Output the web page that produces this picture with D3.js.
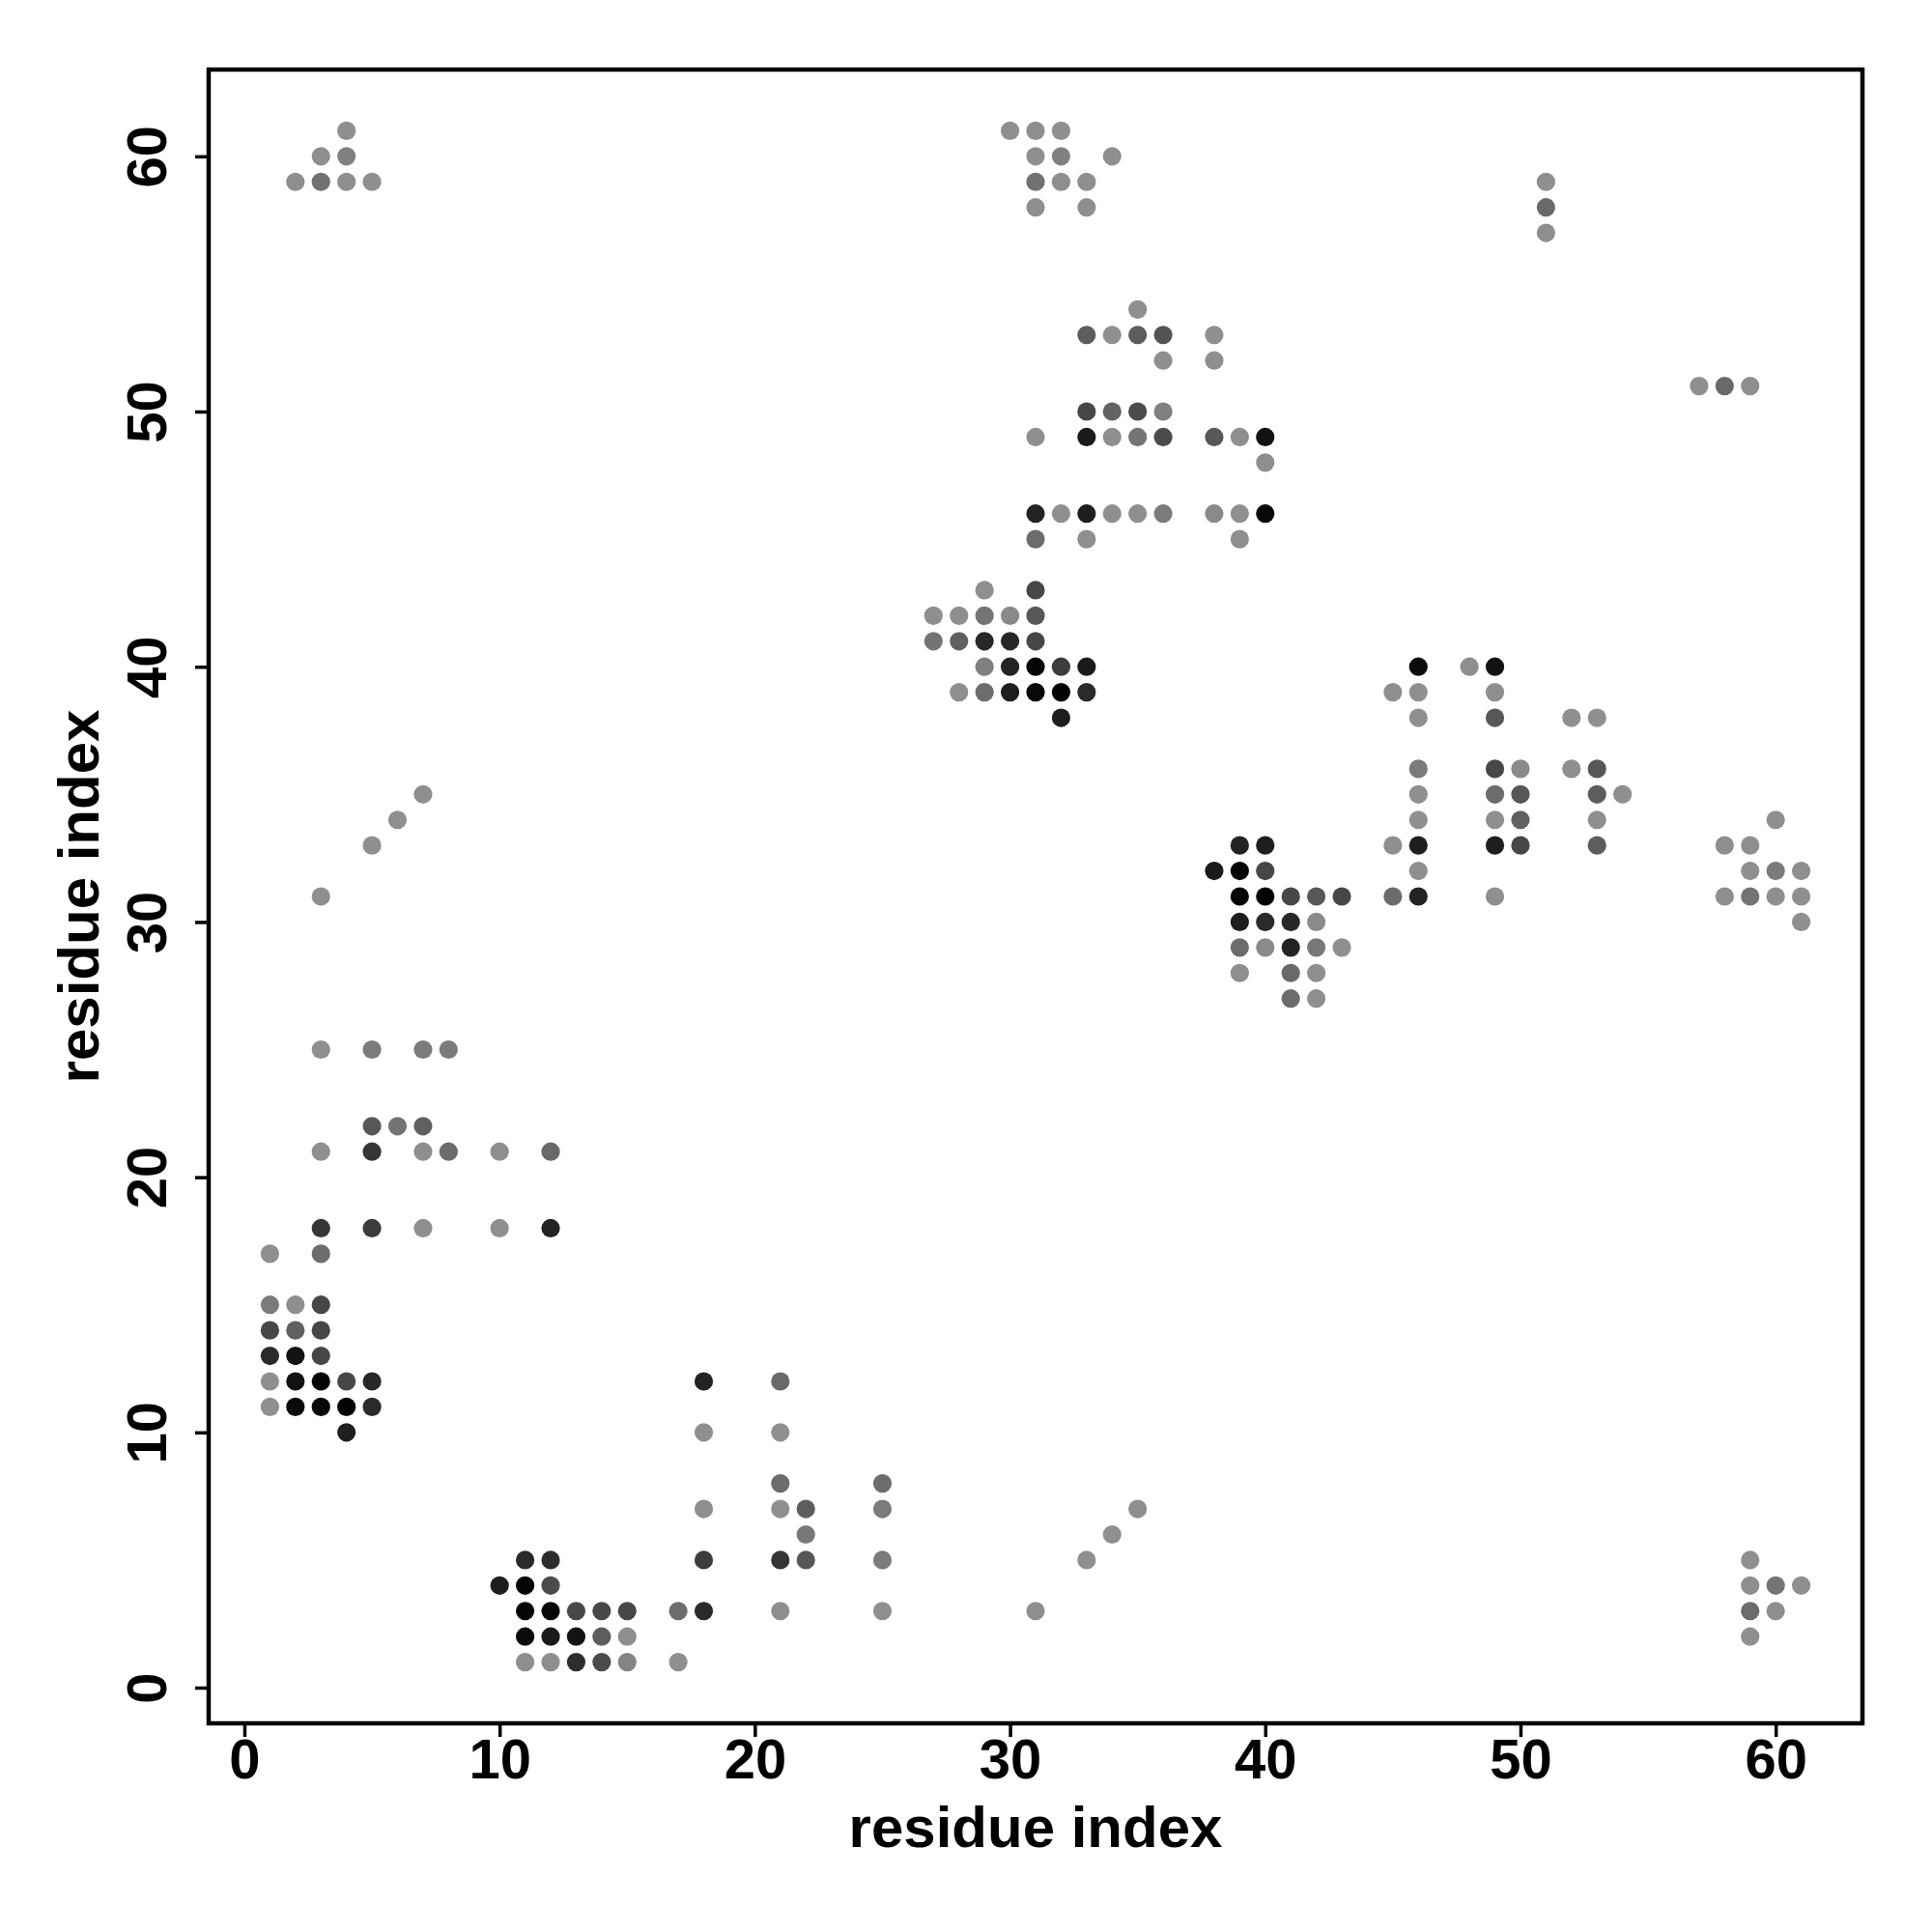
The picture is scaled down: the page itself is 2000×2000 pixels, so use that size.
<!DOCTYPE html>
<html>
<head>
<meta charset="utf-8">
<script src="https://cdn.jsdelivr.net/npm/d3@7"></script>
<style>
  body { margin: 0; background: #fff; }
  text { font-family: "Liberation Sans", Arial, sans-serif; font-weight: bold; }
</style>
</head>
<body>
<div id="chart"></div>
<script>
// contact map: [residue i, residue j, contact strength 0..1]
var contacts = [
  [4,61,.05],[3,60,.05],[4,60,.15],[2,59,.05],[3,59,.25],[4,59,.05],[5,59,.05],
  [30,61,.05],[31,61,.05],[32,61,.05],[31,60,.05],[32,60,.15],[34,60,.05],
  [31,59,.25],[32,59,.05],[33,59,.05],[31,58,.05],[33,58,.05],
  [51,59,.05],[51,58,.3],[51,57,.05],
  [57,51,.05],[58,51,.3],[59,51,.05],
  [35,54,.05],
  [33,53,.38],[34,53,.05],[35,53,.38],[36,53,.45],[38,53,.05],
  [36,52,.05],[38,52,.05],
  [33,50,.53],[34,50,.34],[35,50,.5],[36,50,.15],
  [31,49,.05],[33,49,.82],[34,49,.05],[35,49,.23],[36,49,.5],[38,49,.42],[39,49,.05],[40,49,.88],
  [40,48,.05],
  [31,46,.77],[32,46,.05],[33,46,.8],[34,46,.05],[35,46,.05],[36,46,.18],[38,46,.08],[39,46,.05],[40,46,.95],
  [31,45,.28],[33,45,.05],[39,45,.05],
  [29,43,.05],[31,43,.53],
  [27,42,.05],[28,42,.05],[29,42,.22],[30,42,.08],[31,42,.42],
  [27,41,.23],[28,41,.36],[29,41,.74],[30,41,.74],[31,41,.53],
  [29,40,.15],[30,40,.77],[31,40,.97],[32,40,.6],[33,40,.82],
  [28,39,.05],[29,39,.28],[30,39,.8],[31,39,.95],[32,39,.98],[33,39,.72],
  [32,38,.8],
  [39,33,.77],[40,33,.8],
  [38,32,.82],[39,32,.97],[40,32,.53],
  [39,31,.97],[40,31,.98],[41,31,.53],[42,31,.42],[43,31,.53],
  [39,30,.8],[40,30,.72],[41,30,.74],[42,30,.08],
  [39,29,.28],[40,29,.08],[41,29,.77],[42,29,.2],[43,29,.05],
  [39,28,.05],[41,28,.3],[42,28,.05],
  [41,27,.28],[42,27,.05],
  [46,40,.93],[48,40,.05],[49,40,.88],
  [45,39,.05],[46,39,.05],[49,39,.05],
  [46,38,.05],[49,38,.42],[52,38,.05],[53,38,.05],
  [46,36,.18],[49,36,.53],[50,36,.08],[52,36,.05],[53,36,.42],
  [46,35,.05],[49,35,.28],[50,35,.42],[53,35,.38],[54,35,.05],
  [46,34,.05],[49,34,.05],[50,34,.36],[53,34,.05],
  [45,33,.05],[46,33,.8],[49,33,.8],[50,33,.53],[53,33,.38],
  [46,32,.05],
  [45,31,.28],[46,31,.77],[49,31,.05],
  [60,34,.05],[58,33,.05],[59,33,.05],[59,32,.05],[60,32,.18],[61,32,.05],
  [58,31,.05],[59,31,.23],[60,31,.05],[61,31,.05],[61,30,.05],
  [3,31,.05],[5,33,.05],[6,34,.05],[7,35,.05],
  [3,25,.05],[5,25,.18],[7,25,.18],[8,25,.18],
  [5,22,.42],[6,22,.23],[7,22,.36],
  [3,21,.05],[5,21,.65],[7,21,.05],[8,21,.28],[10,21,.05],[12,21,.3],
  [3,18,.65],[5,18,.6],[7,18,.05],[10,18,.05],[12,18,.77],
  [1,17,.05],[3,17,.28],
  [1,15,.18],[2,15,.05],[3,15,.53],
  [1,14,.53],[2,14,.36],[3,14,.53],
  [1,13,.72],[2,13,.88],[3,13,.53],
  [1,12,.05],[2,12,.88],[3,12,.97],[4,12,.53],[5,12,.74],
  [1,11,.05],[2,11,.93],[3,11,.95],[4,11,.98],[5,11,.72],
  [4,10,.8],
  [18,12,.77],[21,12,.3],
  [18,10,.05],[21,10,.05],
  [21,8,.28],[25,8,.28],
  [18,7,.05],[21,7,.05],[22,7,.38],[25,7,.18],
  [22,6,.2],
  [11,5,.72],[12,5,.7],[18,5,.6],[21,5,.65],[22,5,.42],[25,5,.18],
  [10,4,.8],[11,4,.97],[12,4,.5],
  [11,3,.97],[12,3,.96],[13,3,.53],[14,3,.53],[15,3,.53],[17,3,.28],[18,3,.72],[21,3,.05],[25,3,.05],
  [11,2,.93],[12,2,.82],[13,2,.88],[14,2,.38],[15,2,.05],
  [11,1,.05],[12,1,.05],[13,1,.7],[14,1,.5],[15,1,.12],[17,1,.05],
  [35,7,.05],[34,6,.05],[33,5,.05],[31,3,.05],
  [59,5,.05],[59,4,.05],[60,4,.23],[61,4,.05],[59,3,.28],[60,3,.05],[59,2,.05]
];

var xTicks = [0, 10, 20, 30, 40, 50, 60],
  yTicks = [0, 10, 20, 30, 40, 50, 60],
  xTitle = "residue index",
  yTitle = "residue index";

var W = 2000, H = 2000,
  margin = {top: 72, right: 72, bottom: 216, left: 216},
  width = W - margin.left - margin.right,
  height = H - margin.top - margin.bottom;

var svg = d3.select("#chart").append("svg")
  .attr("width", W).attr("height", H);

svg.append("rect").attr("width", W).attr("height", H).attr("fill", "#fff");

var g = svg.append("g").attr("transform", "translate(" + margin.left + "," + margin.top + ")");

// R style 4% padding around 1..61
var x = d3.scaleLinear().domain([-1.4, 63.4]).range([0, width]),
  y = d3.scaleLinear().domain([-1.4, 63.4]).range([height, 0]),
  shade = d3.scaleLinear().domain([0, 1]).range(["#969696", "#000000"]);

g.selectAll("circle")
  .data(contacts)
  .enter()
  .append("circle")
  .attr("cx", function(d) { return x(d[0]); })
  .attr("cy", function(d) { return y(d[1]); })
  .attr("r", 9.6)
  .attr("fill", function(d) { return shade(d[2]); });

g.append("rect")
  .attr("width", width)
  .attr("height", height)
  .attr("fill", "none")
  .attr("stroke", "#000")
  .attr("stroke-width", 4.5);

var xAxis = g.append("g")
  .attr("transform", "translate(0," + height + ")")
  .call(d3.axisBottom(x).tickValues(xTicks).tickSize(14));
xAxis.select(".domain").remove();
xAxis.selectAll("line").attr("stroke-width", 3.5);
xAxis.selectAll("text")
  .attr("y", 57)
  .attr("dy", null)
  .attr("font-size", 58)
  .attr("fill", "#000");

var yAxis = g.append("g")
  .call(d3.axisLeft(y).tickValues(yTicks).tickSize(14));
yAxis.select(".domain").remove();
yAxis.selectAll("line").attr("stroke-width", 3.5);
yAxis.selectAll("text")
  .attr("x", 0)
  .attr("y", -44)
  .attr("dy", null)
  .attr("transform", "rotate(-90)")
  .attr("text-anchor", "middle")
  .attr("font-size", 58)
  .attr("fill", "#000");

svg.append("text")
  .attr("x", margin.left + width / 2)
  .attr("y", 1912)
  .attr("text-anchor", "middle")
  .attr("font-size", 60)
  .text(xTitle);

svg.append("text")
  .attr("transform", "translate(102," + (margin.top + height / 2) + ") rotate(-90)")
  .attr("text-anchor", "middle")
  .attr("font-size", 60)
  .text(yTitle);
</script>
</body>
</html>
